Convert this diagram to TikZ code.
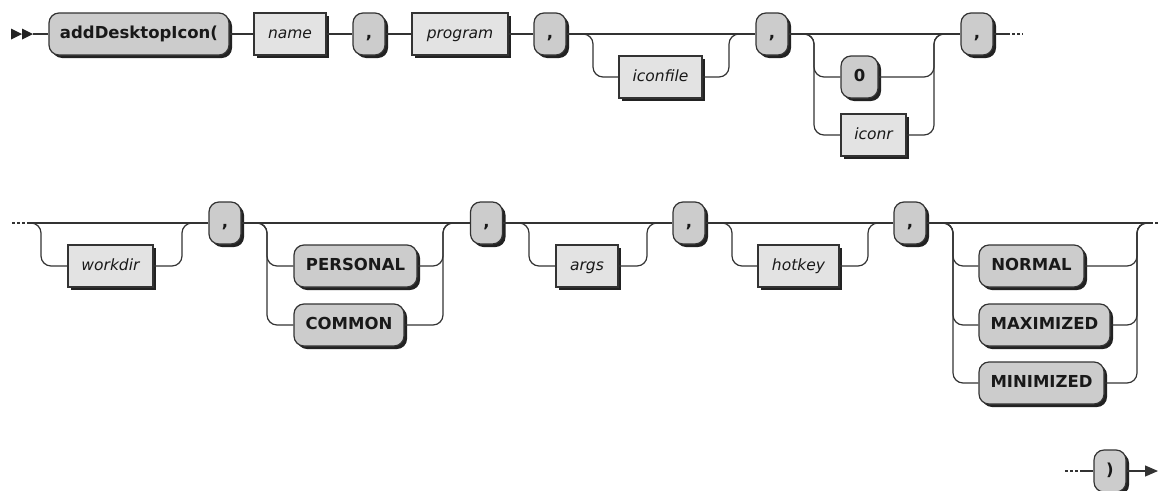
\documentclass[tikz,border=0pt]{standalone}
\usepackage{fontspec}
\setmainfont{DejaVu Sans}
\usetikzlibrary{shadows,arrows.meta,calc}
\definecolor{termfill}{RGB}{204,204,204}
\definecolor{ntfill}{RGB}{227,227,227}
\definecolor{linec}{RGB}{51,51,51}
\definecolor{shadowc}{RGB}{34,34,34}
\begin{document}
\begin{tikzpicture}[x=1pt,y=-1pt,
 box/.style={draw=linec, line width=1.2pt, minimum height=42pt, inner sep=0pt,
   text height=12pt, text depth=4pt, text=black!90,
   drop shadow={shadow xshift=3pt,shadow yshift=-3pt,fill=shadowc,opacity=1}},
 term/.style={box, rounded corners=10pt, fill=termfill, font=\fontsize{16.5}{19}\selectfont\bfseries},
 nterm/.style={box, fill=ntfill, font=\fontsize{15.5}{18}\selectfont\itshape},
 conn/.style={draw=linec, line width=1.2pt},
 rc/.style={conn, rounded corners=10pt},
 dots/.style={conn, dash pattern=on 3pt off 2pt},
]
\useasboundingbox (0,0) rectangle (1158,490);

% ---------- row 1 ----------
\node[term, minimum width=180pt] (t1) at (139,34) {addDesktopIcon(};
\node[nterm, minimum width=72pt] (n1) at (290,34) {name};
\node[term, minimum width=32pt] (c1) at (369,34) {,};
\node[nterm, minimum width=96pt] (n2) at (460,34) {program};
\node[term, minimum width=32pt] (c2) at (550,34) {,};
\node[nterm, minimum width=83pt] (n3) at (660.5,77) {iconfile};
\node[term, minimum width=32pt] (c3) at (772,34) {,};
\node[term, minimum width=37pt] (t0) at (859.5,77) {0};
\node[nterm, minimum width=65pt] (n4) at (873.5,135) {iconr};
\node[term, minimum width=32pt] (c4) at (977,34) {,};

\coordinate (st) at (33,34);
\fill[shadowc] (11,28.5) -- (22,34) -- (11,39.5) -- cycle;
\fill[shadowc] (22,28.5) -- (33,34) -- (22,39.5) -- cycle;
\draw[conn] (st) -- (t1.west);
\draw[conn] (t1.east) -- (n1.west);
\draw[conn] (n1.east) -- (c1.west);
\draw[conn] (c1.east) -- (n2.west);
\draw[conn] (n2.east) -- (c2.west);
\draw[conn] (c2.east) -- (c3.west);
\draw[conn] (c3.east) -- (c4.west);

\coordinate (sA) at (582,34);
\coordinate (jA) at (741,34);
\draw[rc] (sA) -- ++(11,0) |- (n3.west);
\draw[rc] (jA) -- ++(-12,0) |- (n3.east);

\coordinate (sB) at (803,34);
\coordinate (jB) at (946,34);
\draw[rc] (sB) -- ++(11,0) |- (t0.west);
\draw[rc] (sB) -- ++(11,0) |- (n4.west);
\draw[rc] (jB) -- ++(-12,0) |- (t0.east);
\draw[rc] (jB) -- ++(-12,0) |- (n4.east);

\coordinate (e1) at (1007,34);
\coordinate (e1d) at (1023,34);
\draw[conn] (c4.east) -- (e1);
\draw[dots] (e1) -- (e1d);

% ---------- row 2 ----------
\node[nterm, minimum width=85pt] (n5) at (110.5,266) {workdir};
\node[term, minimum width=32pt] (c5) at (225,223) {,};
\node[term, minimum width=123pt] (t2) at (355.5,266) {PERSONAL};
\node[term, minimum width=110pt] (t3) at (349,325) {COMMON};
\node[term, minimum width=32pt] (c6) at (486.5,223) {,};
\node[nterm, minimum width=62pt] (n6) at (587,266) {args};
\node[term, minimum width=32pt] (c7) at (689,223) {,};
\node[nterm, minimum width=81pt] (n7) at (798.5,266) {hotkey};
\node[term, minimum width=32pt] (c8) at (910,223) {,};
\node[term, minimum width=105pt] (t4) at (1031.5,266) {NORMAL};
\node[term, minimum width=131pt] (t5) at (1044.5,325) {MAXIMIZED};
\node[term, minimum width=125pt] (t6) at (1041.5,383) {MINIMIZED};

\coordinate (d2) at (12,223);
\coordinate (r2s) at (28,223);
\coordinate (r2e) at (1150,223);
\coordinate (d2e) at (1158,223);
\draw[dots] (d2) -- (r2s);
\draw[conn] (r2s) -- (c5.west);
\draw[conn] (c5.east) -- (c6.west);
\draw[conn] (c6.east) -- (c7.west);
\draw[conn] (c7.east) -- (c8.west);
\draw[conn] (c8.east) -- (r2e);
\draw[dots] (r2e) -- (d2e);

\coordinate (sC) at (30,223);
\coordinate (jC) at (194,223);
\draw[rc] (sC) -- ++(11,0) |- (n5.west);
\draw[rc] (jC) -- ++(-12,0) |- (n5.east);

\coordinate (sD) at (256,223);
\coordinate (jD) at (455,223);
\draw[rc] (sD) -- ++(11,0) |- (t2.west);
\draw[rc] (sD) -- ++(11,0) |- (t3.west);
\draw[rc] (jD) -- ++(-12,0) |- (t2.east);
\draw[rc] (jD) -- ++(-12,0) |- (t3.east);

\coordinate (sE) at (518,223);
\coordinate (jE) at (659,223);
\draw[rc] (sE) -- ++(11,0) |- (n6.west);
\draw[rc] (jE) -- ++(-12,0) |- (n6.east);

\coordinate (sF) at (721,223);
\coordinate (jF) at (880,223);
\draw[rc] (sF) -- ++(11,0) |- (n7.west);
\draw[rc] (jF) -- ++(-12,0) |- (n7.east);

\coordinate (sG) at (942,223);
\coordinate (jG) at (1149,223);
\draw[rc] (sG) -- ++(11,0) |- (t4.west);
\draw[rc] (sG) -- ++(11,0) |- (t5.west);
\draw[rc] (sG) -- ++(11,0) |- (t6.west);
\draw[rc] (jG) -- ++(-12,0) |- (t4.east);
\draw[rc] (jG) -- ++(-12,0) |- (t5.east);
\draw[rc] (jG) -- ++(-12,0) |- (t6.east);

% ---------- row 3 ----------
\node[term, minimum width=32pt] (c9) at (1110,471) {)};
\coordinate (d3) at (1065,471);
\coordinate (r3s) at (1082,471);
\coordinate (endc) at (1158,471);
\draw[dots] (d3) -- (r3s);
\draw[conn] (r3s) -- (c9.west);
\draw[conn, -{Triangle[length=13pt,width=11pt]}] (c9.east) -- (endc);
\end{tikzpicture}
\end{document}
